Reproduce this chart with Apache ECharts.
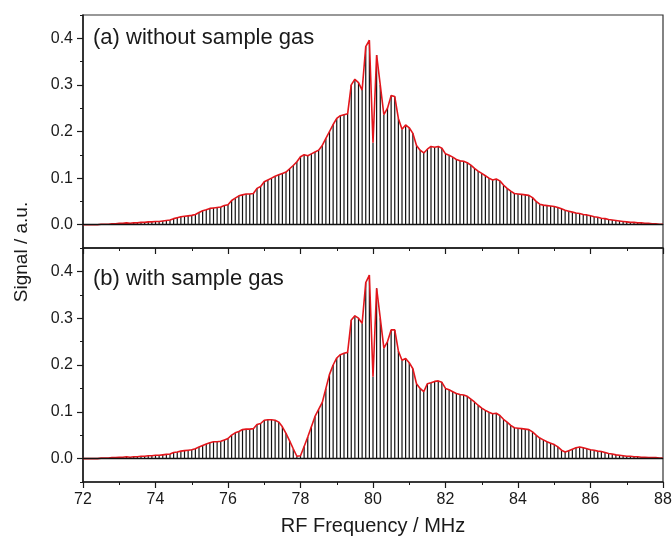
<!DOCTYPE html>
<html lang="en">
<head>
    <meta charset="UTF-8">
    <title>RF spectrum</title>
    <script src="https://cdn.jsdelivr.net/npm/echarts@6/dist/echarts.min.js"></script>
    <style>
        html, body {margin: 0; padding: 0; background: #fff;}
        #chart {width: 672px; height: 536px;}
    </style>
</head>
<body>
<div id="chart"></div>
<script>
    // stick comb: 72.0 .. 88.0 MHz, 0.1 MHz apart
    const freqStart = 72;
    const freqStep  = 0.1;
    const xTicks    = [72, 74, 76, 78, 80, 82, 84, 86, 88];
    const yTicks    = [0.0, 0.1, 0.2, 0.3, 0.4];
    const panelText = ['(a) without sample gas', '(b) with sample gas'];

    // (a) without sample gas
    const signalA = [
        0.000, 0.000, 0.000, 0.000, 0.000, 0.001, 0.001, 0.001, 0.002, 0.002,
        0.003, 0.003, 0.004, 0.003, 0.004, 0.004, 0.005, 0.005, 0.006, 0.006,
        0.007, 0.007, 0.008, 0.009, 0.010, 0.013, 0.015, 0.017, 0.018, 0.019,
        0.020, 0.022, 0.026, 0.030, 0.032, 0.035, 0.036, 0.037, 0.038, 0.041,
        0.043, 0.052, 0.057, 0.062, 0.064, 0.066, 0.066, 0.067, 0.078, 0.082,
        0.092, 0.096, 0.100, 0.104, 0.107, 0.110, 0.113, 0.120, 0.127, 0.135,
        0.146, 0.150, 0.148, 0.152, 0.156, 0.160, 0.170, 0.185, 0.200, 0.215,
        0.228, 0.234, 0.236, 0.238, 0.300, 0.312, 0.305, 0.289, 0.382, 0.396,
        0.176, 0.364, 0.300, 0.236, 0.250, 0.277, 0.275, 0.228, 0.205, 0.214,
        0.208, 0.196, 0.170, 0.160, 0.154, 0.162, 0.168, 0.166, 0.168, 0.164,
        0.152, 0.149, 0.145, 0.140, 0.137, 0.136, 0.133, 0.128, 0.121, 0.115,
        0.110, 0.105, 0.100, 0.096, 0.098, 0.094, 0.085, 0.078, 0.072, 0.067,
        0.066, 0.065, 0.064, 0.063, 0.058, 0.050, 0.044, 0.042, 0.041, 0.040,
        0.039, 0.037, 0.034, 0.031, 0.029, 0.027, 0.025, 0.024, 0.022, 0.021,
        0.019, 0.017, 0.016, 0.014, 0.013, 0.011, 0.010, 0.009, 0.008, 0.007,
        0.006, 0.005, 0.005, 0.004, 0.004, 0.003, 0.003, 0.002, 0.002, 0.001,
        0.001
    ];

    // (b) with sample gas
    const signalB = [
        0.000, 0.000, 0.000, 0.000, 0.000, 0.001, 0.001, 0.001, 0.002, 0.002,
        0.003, 0.003, 0.004, 0.003, 0.004, 0.004, 0.005, 0.005, 0.006, 0.006,
        0.007, 0.007, 0.008, 0.009, 0.010, 0.013, 0.014, 0.016, 0.017, 0.018,
        0.019, 0.021, 0.025, 0.028, 0.031, 0.034, 0.036, 0.036, 0.037, 0.040,
        0.043, 0.050, 0.055, 0.058, 0.062, 0.063, 0.063, 0.064, 0.073, 0.075,
        0.082, 0.083, 0.083, 0.082, 0.078, 0.068, 0.054, 0.038, 0.021, 0.005,
        0.006, 0.026, 0.046, 0.068, 0.090, 0.105, 0.120, 0.150, 0.180, 0.200,
        0.215, 0.222, 0.225, 0.227, 0.296, 0.305, 0.300, 0.289, 0.376, 0.392,
        0.175, 0.364, 0.300, 0.236, 0.250, 0.275, 0.275, 0.230, 0.210, 0.214,
        0.205, 0.192, 0.160, 0.150, 0.143, 0.160, 0.162, 0.165, 0.166, 0.163,
        0.150, 0.147, 0.143, 0.139, 0.137, 0.136, 0.133, 0.127, 0.121, 0.114,
        0.108, 0.103, 0.099, 0.096, 0.097, 0.092, 0.084, 0.078, 0.071, 0.066,
        0.065, 0.064, 0.063, 0.062, 0.057, 0.050, 0.044, 0.040, 0.036, 0.033,
        0.030, 0.025, 0.018, 0.014, 0.017, 0.020, 0.023, 0.025, 0.023, 0.021,
        0.019, 0.018, 0.016, 0.015, 0.013, 0.011, 0.010, 0.008, 0.007, 0.006,
        0.005, 0.005, 0.004, 0.004, 0.003, 0.003, 0.002, 0.002, 0.002, 0.001,
        0.001
    ];

    function pairs(arr) {
        return arr.map(function (v, i) {
            return [+(freqStart + i * freqStep).toFixed(1), v];
        });
    }

    const FONT   = 'Liberation Sans, Arial, sans-serif';
    const INK    = '#1a1a1a';
    const grids  = [
        {left: 83, right: 9, top: 15, height: 233},
        {left: 83, right: 9, top: 248, height: 234}
    ];

    let xAxes = [], yAxes = [], series = [];
    [signalA, signalB].forEach(function (sig, g) {
        let last = g === 1;
        xAxes.push({
            type: 'value', gridIndex: g, min: 72, max: 88, interval: 2,
            name: last ? 'RF Frequency / MHz' : '',
            nameLocation: 'middle', nameGap: 34,
            nameTextStyle: {fontFamily: FONT, fontSize: 20, color: INK},
            axisLine: {show: true, onZero: false, lineStyle: {color: INK, width: 1.5}},
            axisTick: {show: true, inside: false, length: 6, lineStyle: {color: INK, width: 1.2}},
            minorTick: {show: true, splitNumber: 2, length: 3, lineStyle: {color: INK, width: 1}},
            axisLabel: {show: last, margin: 10, fontFamily: FONT, fontSize: 16, color: INK,
                customValues: xTicks},
            splitLine: {show: false}
        });
        // main axis with labelled ticks
        yAxes.push({
            type: 'value', gridIndex: g, position: 'left', min: -0.05, max: 0.45,
            axisLine: {show: true, lineStyle: {color: INK, width: 1.5}},
            axisTick: {show: true, length: 6, customValues: yTicks, lineStyle: {color: INK, width: 1.2}},
            axisLabel: {show: true, margin: 10, fontFamily: FONT, fontSize: 16, color: INK,
                customValues: yTicks,
                formatter: function (v) { return v.toFixed(1); }},
            splitLine: {show: false}
        });
        // minor ticks between labels
        yAxes.push({
            type: 'value', gridIndex: g, position: 'left', min: -0.05, max: 0.45, interval: 0.05,
            axisLine: {show: false},
            axisTick: {show: true, length: 3, lineStyle: {color: INK, width: 1}},
            axisLabel: {show: false},
            splitLine: {show: false}
        });
        series.push({
            type: 'bar', xAxisIndex: g, yAxisIndex: g * 2,
            data: pairs(sig), barWidth: 1.2,
            itemStyle: {color: '#111'},
            silent: true, animation: false, z: 2,
            markLine: {
                silent: true, symbol: 'none', label: {show: false},
                lineStyle: {color: '#111', width: 1.3, type: 'solid'},
                data: [{yAxis: 0}]
            }
        });
        series.push({
            type: 'line', xAxisIndex: g, yAxisIndex: g * 2,
            data: pairs(sig), showSymbol: false, symbol: 'none',
            lineStyle: {color: '#e3161c', width: 1.6},
            silent: true, animation: false, z: 4
        });
    });

    const chart = echarts.init(document.getElementById('chart'), null, {renderer: 'canvas'});
    chart.setOption({
        backgroundColor: '#fff',
        animation: false,
        grid: grids.map(function (gr) {
            return Object.assign({show: true, borderColor: '#333', borderWidth: 1.2,
                backgroundColor: 'transparent', containLabel: false,
                outerBoundsMode: 'none'}, gr);
        }),
        xAxis: xAxes,
        yAxis: yAxes,
        series: series,
        graphic: [
            {type: 'text', left: 93, top: 27,
                style: {text: panelText[0], font: '22px ' + FONT, fill: INK}},
            {type: 'text', left: 93, top: 268,
                style: {text: panelText[1], font: '22px ' + FONT, fill: INK}},
            {type: 'text', x: 22, y: 252, rotation: Math.PI / 2,
                style: {text: 'Signal / a.u.', font: '19px ' + FONT, fill: INK,
                    align: 'center', verticalAlign: 'middle'}}
        ]
    });
</script>
</body>
</html>
